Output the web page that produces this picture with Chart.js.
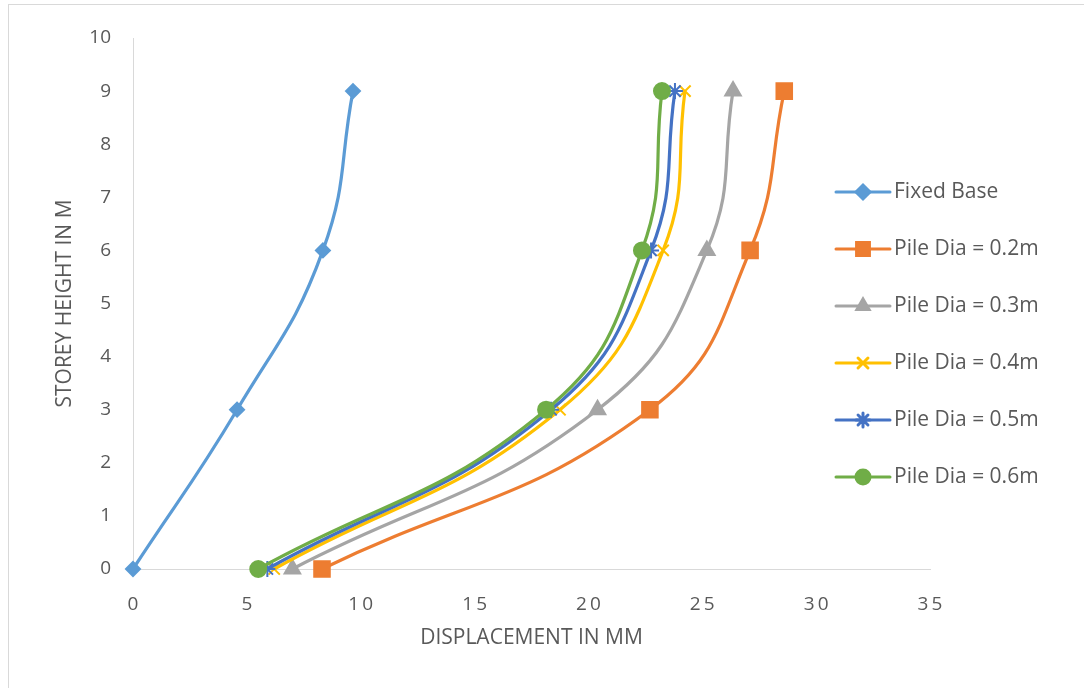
<!DOCTYPE html>
<html>
<head>
<meta charset="utf-8">
<script src="https://cdn.jsdelivr.net/npm/chart.js@4/dist/chart.umd.min.js"></script>
<style>
    html, body { margin: 0; padding: 0; background: #fff; }
    #wrap { width: 1084px; height: 688px; }
</style>
</head>
<body>
<div id="wrap"><canvas id="chart" width="1084" height="688"></canvas></div>
<script>
// storey heights (y) and displacements (x) for each series
var heights = [0, 3, 6, 9];
var fixedBase = [0, 4.57, 8.34, 9.66];
var pile02 = [8.3, 22.7, 27.1, 28.6];
var pile03 = [7.0, 20.4, 25.2, 26.35];
var pile04 = [6.2, 18.75, 23.28, 24.24];
var pile05 = [5.9, 18.36, 22.75, 23.8];
var pile06 = [5.5, 18.14, 22.35, 23.23];

var seriesNames = ['Fixed Base', 'Pile Dia = 0.2m', 'Pile Dia = 0.3m', 'Pile Dia = 0.4m', 'Pile Dia = 0.5m', 'Pile Dia = 0.6m'];
var xTicks = [0, 5, 10, 15, 20, 25, 30, 35];
var yTicks = [0, 1, 2, 3, 4, 5, 6, 7, 8, 9, 10];

var FONT = "'Open Sans', 'Liberation Sans', sans-serif";
var TEXT = '#595959';
var AXIS = '#d9d9d9';

var toPoints = function (xs) {
    return xs.map(function (x, i) {
        return {x: x, y: heights[i]};
    });
};

var styles = [
    {color: '#5B9BD5', point: 'rectRot', radius: 7},
    {color: '#ED7D31', point: 'rect', radius: 11},
    {color: '#A5A5A5', point: 'triangle', radius: 9},
    {color: '#FFC000', point: 'crossRot', radius: 8},
    {color: '#4472C4', point: 'star', radius: 8},
    {color: '#70AD47', point: 'circle', radius: 8}
];
var values = [fixedBase, pile02, pile03, pile04, pile05, pile06];

var datasets = values.map(function (xs, i) {
    var s = styles[i];
    return {
        label: seriesNames[i],
        data: toPoints(xs),
        borderColor: s.color,
        backgroundColor: s.color,
        borderWidth: 3.2,
        tension: 0.45,
        pointStyle: s.point,
        pointRadius: s.radius,
        pointHoverRadius: s.radius,
        pointBorderWidth: 2,
        pointBorderColor: s.color,
        pointBackgroundColor: s.color,
        clip: false,
        // later series drawn on top, as in the original
        order: values.length - i
    };
});

var frame = {
    id: 'frame',
    beforeDraw: function (chart) {
        var ctx = chart.ctx;
        ctx.save();
        ctx.fillStyle = '#fff';
        ctx.fillRect(0, 0, chart.width, chart.height);
        ctx.strokeStyle = AXIS;
        ctx.lineWidth = 1;
        ctx.strokeRect(8.5, 4.5, chart.width + 20, chart.height + 20);
        ctx.restore();
    }
};

// legend: short line with the marker in the middle, text to the right
var sideLegend = {
    id: 'sideLegend',
    afterDraw: function (chart) {
        var ctx = chart.ctx;
        var x0 = 836, x1 = 890, top = 192, step = 57;
        ctx.save();
        chart.data.datasets.forEach(function (ds, i) {
            var y = top + i * step;
            ctx.strokeStyle = ds.borderColor;
            ctx.lineWidth = 3;
            ctx.lineCap = 'round';
            ctx.beginPath();
            ctx.moveTo(x0, y);
            ctx.lineTo(x1, y);
            ctx.stroke();
            Chart.helpers.drawPoint(ctx, {
                pointStyle: ds.pointStyle,
                radius: Math.min(ds.pointRadius, 7) * (ds.pointStyle === 'rect' ? 1.3 : 1),
                rotation: 0,
                borderWidth: 2
            }, (x0 + x1) / 2, y);
            ctx.fillStyle = ds.borderColor;
            ctx.fill();
            ctx.fillStyle = TEXT;
            ctx.font = '21px ' + FONT;
            ctx.textAlign = 'left';
            ctx.textBaseline = 'middle';
            ctx.fillText(ds.label, 894, y);
        });
        ctx.restore();
    }
};

var ctx = document.getElementById('chart').getContext('2d');

new Chart(ctx, {
    type: 'line',
    data: {datasets: datasets},
    plugins: [frame, sideLegend],
    options: {
        responsive: false,
        animation: false,
        layout: {padding: {left: 0, top: 38, right: 154, bottom: 0}},
        plugins: {
            legend: {display: false},
            tooltip: {enabled: false}
        },
        scales: {
            x: {
                type: 'linear',
                min: 0,
                max: 35,
                afterBuildTicks: function (scale) {
                    scale.ticks = xTicks.map(function (v) { return {value: v}; });
                },
                afterFit: function (scale) { scale.height = 119; },
                grid: {display: false, drawTicks: false},
                border: {display: true, color: AXIS, width: 1},
                ticks: {
                    color: TEXT,
                    font: {family: FONT, size: 19},
                    padding: 24,
                    maxRotation: 0,
                    callback: function (v) { return String(v).split('').join('\u2009'); }
                },
                title: {
                    display: true,
                    text: 'DISPLACEMENT IN MM',
                    color: TEXT,
                    font: {family: FONT, size: 21},
                    padding: {top: 0, bottom: 37}
                }
            },
            y: {
                type: 'linear',
                min: 0,
                max: 10,
                afterBuildTicks: function (scale) {
                    scale.ticks = yTicks.map(function (v) { return {value: v}; });
                },
                afterFit: function (scale) { scale.width = 133; },
                grid: {display: false, drawTicks: false},
                border: {display: true, color: AXIS, width: 1},
                ticks: {
                    color: TEXT,
                    font: {family: FONT, size: 19},
                    padding: 22
                },
                title: {
                    display: true,
                    text: 'STOREY HEIGHT IN M',
                    color: TEXT,
                    font: {family: FONT, size: 21},
                    padding: {top: 52, bottom: 0}
                }
            }
        }
    }
});
</script>
</body>
</html>
